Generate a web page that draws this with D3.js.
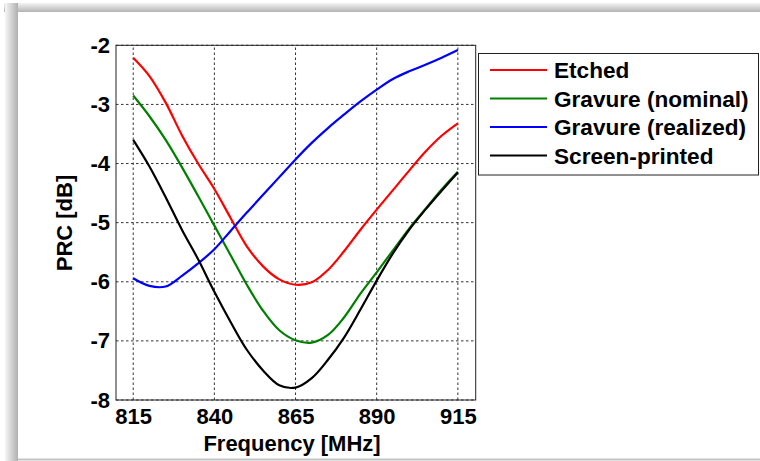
<!DOCTYPE html>
<html>
<head>
<meta charset="utf-8">
<script src="https://cdn.jsdelivr.net/npm/d3@7"></script>
<style>
  html, body { margin: 0; padding: 0; background: #fff; }
  svg { display: block; }
  text { font-family: "Liberation Sans", Arial, Helvetica, sans-serif; font-weight: bold; fill: #000; }
</style>
</head>
<body>
<svg id="chart" width="760" height="461"></svg>
<script>
// Frequency sweep (MHz) and PRC (dB) for each antenna build
const frequency = [815, 820, 825, 830, 835, 840, 845, 850, 855, 860, 865, 870, 875, 880, 885, 890, 895, 900, 905, 910, 915];
const etched = [-2.21, -2.52, -2.97, -3.52, -4.00, -4.43, -4.92, -5.40, -5.74, -5.96, -6.05, -6.01, -5.80, -5.48, -5.12, -4.78, -4.45, -4.12, -3.80, -3.53, -3.32];
const gravureNominal = [-2.85, -3.20, -3.60, -4.06, -4.55, -5.05, -5.55, -6.05, -6.49, -6.82, -6.99, -7.03, -6.90, -6.60, -6.20, -5.84, -5.47, -5.10, -4.77, -4.44, -4.14];
const gravureRealized = [-5.94, -6.07, -6.08, -5.90, -5.69, -5.45, -5.14, -4.83, -4.53, -4.23, -3.93, -3.65, -3.40, -3.17, -2.95, -2.75, -2.57, -2.44, -2.33, -2.21, -2.08];
const screenPrinted = [-3.60, -4.05, -4.57, -5.12, -5.62, -6.17, -6.68, -7.15, -7.50, -7.75, -7.79, -7.63, -7.32, -6.94, -6.47, -5.98, -5.52, -5.12, -4.78, -4.46, -4.15];

const seriesNames = ["Etched", "Gravure (nominal)", "Gravure (realized)", "Screen-printed"];
const seriesValues = [etched, gravureNominal, gravureRealized, screenPrinted];
const seriesColors = ["#ff0000", "#008000", "#0000ff", "#000000"];

const xTicks = [815, 840, 865, 890, 915];
const yTicks = [-2, -3, -4, -5, -6, -7, -8];

const svg = d3.select("#chart");
const W = 760, H = 461;

// Drop-shadow frame around the figure panel
const defs = svg.append("defs");
const gTop = defs.append("linearGradient").attr("id", "shTop").attr("x1", 0).attr("y1", 0).attr("x2", 0).attr("y2", 1);
gTop.append("stop").attr("offset", "0%").attr("stop-color", "#f4f4f4");
gTop.append("stop").attr("offset", "100%").attr("stop-color", "#b4b4b4");
const gLeft = defs.append("linearGradient").attr("id", "shLeft").attr("x1", 0).attr("y1", 0).attr("x2", 1).attr("y2", 0);
gLeft.append("stop").attr("offset", "0%").attr("stop-color", "#f6f6f6");
gLeft.append("stop").attr("offset", "100%").attr("stop-color", "#b0b0b0");

svg.append("rect").attr("x", 4).attr("y", 3).attr("width", W - 4).attr("height", 9).attr("fill", "url(#shTop)");
svg.append("rect").attr("x", 5).attr("y", 3).attr("width", 13).attr("height", H - 3).attr("fill", "url(#shLeft)");
svg.append("rect").attr("x", 18).attr("y", 12).attr("width", W - 18).attr("height", H - 12).attr("fill", "#fff");
svg.append("rect").attr("x", 18).attr("y", 458.5).attr("width", W - 18).attr("height", 2).attr("fill", "#c4c4c4");

// Axes area
const x = d3.scaleLinear().domain([809.7, 920.5]).range([116, 475.7]);
const y = d3.scaleLinear().domain([-8, -2]).range([400, 45.3]);

const plot = svg.append("g");

// Dotted grid
plot.append("g").selectAll("line").data(xTicks).join("line")
  .attr("x1", d => x(d)).attr("x2", d => x(d))
  .attr("y1", y(-8)).attr("y2", y(-2))
  .attr("stroke", "#333").attr("stroke-width", 1).attr("stroke-dasharray", "2.5,2.5");
plot.append("g").selectAll("line").data(yTicks).join("line")
  .attr("x1", x.range()[0]).attr("x2", x.range()[1])
  .attr("y1", d => y(d)).attr("y2", d => y(d))
  .attr("stroke", "#333").attr("stroke-width", 1).attr("stroke-dasharray", "2.5,2.5");

// Curves
const line = d3.line()
  .x((d, i) => x(frequency[i]))
  .y(d => y(d))
  .curve(d3.curveCatmullRom.alpha(0.5));

plot.append("g").selectAll("path").data(seriesValues).join("path")
  .attr("d", d => line(d))
  .attr("fill", "none")
  .attr("stroke", (d, i) => seriesColors[i])
  .attr("stroke-width", 2.2)
  .attr("stroke-linejoin", "round");

// Axis box
plot.append("rect")
  .attr("x", x.range()[0]).attr("y", y(-2))
  .attr("width", x.range()[1] - x.range()[0])
  .attr("height", y(-8) - y(-2))
  .attr("fill", "none").attr("stroke", "#222").attr("stroke-width", 1);

// Axes via d3 axis generators (lines hidden, labels kept)
const xAxis = svg.append("g").attr("transform", `translate(0,${y(-8)})`)
  .call(d3.axisBottom(x).tickValues(xTicks).tickSize(0).tickPadding(8).tickFormat(d3.format("d")));
xAxis.select(".domain").remove();
xAxis.selectAll("text").attr("font-size", 22).attr("font-family", null).attr("dy", "0.71em").attr("y", 8);

const yAxis = svg.append("g").attr("transform", `translate(${x.range()[0]},0)`)
  .call(d3.axisLeft(y).tickValues(yTicks).tickSize(0).tickPadding(6).tickFormat(d => d3.format("d")(d).replace("−", "-")));
yAxis.select(".domain").remove();
yAxis.selectAll("text").attr("font-size", 22).attr("font-family", null);

// Axis titles
svg.append("text").attr("x", 292).attr("y", 451).attr("text-anchor", "middle")
  .attr("font-size", 22).text("Frequency [MHz]");
svg.append("text").attr("transform", "translate(71.5,223) rotate(-90)")
  .attr("text-anchor", "middle").attr("font-size", 22).text("PRC [dB]");

// Legend
const legend = svg.append("g");
legend.append("rect").attr("x", 478.5).attr("y", 53.5).attr("width", 280).attr("height", 121.5)
  .attr("fill", "#fff").attr("stroke", "#222").attr("stroke-width", 1);
const rowY = [70, 98.5, 127, 155.5];
const rows = legend.selectAll("g.row").data(seriesNames).join("g").attr("class", "row")
  .attr("transform", (d, i) => `translate(0,${rowY[i]})`);
rows.append("line").attr("x1", 490).attr("x2", 547).attr("y1", 0).attr("y2", 0)
  .attr("stroke", (d, i) => seriesColors[i]).attr("stroke-width", 2.2);
rows.append("text").attr("x", 554).attr("y", 8.3).attr("font-size", 22.6).text(d => d);
</script>
</body>
</html>
